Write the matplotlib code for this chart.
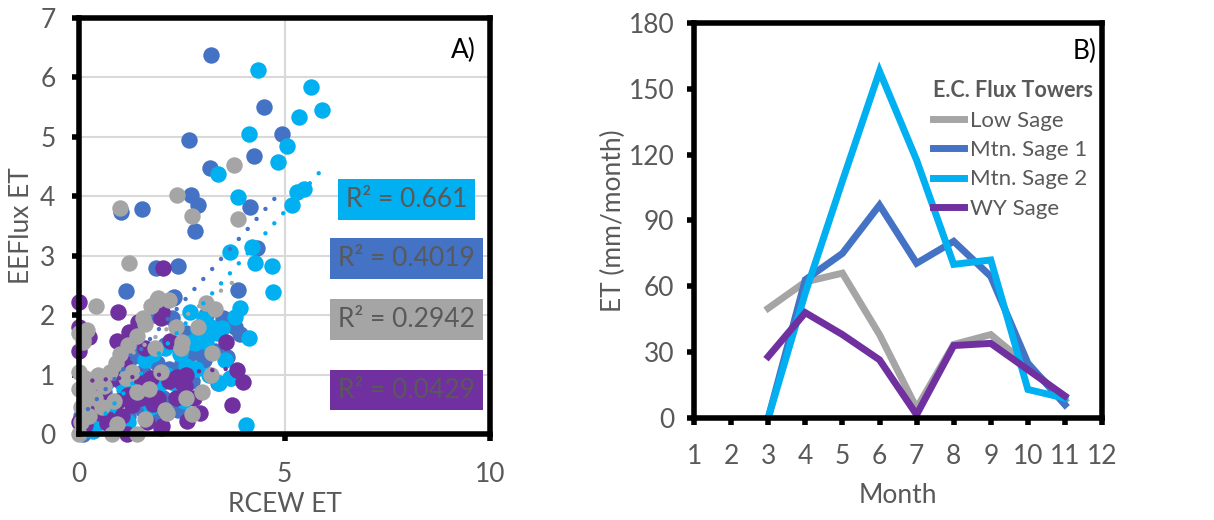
import numpy as np
import matplotlib
matplotlib.use("Agg")
import matplotlib.pyplot as plt

plt.rcParams['font.family'] = ['Lato', 'DejaVu Sans']

txt_col = '#595959'
c_low, c_mtn1, c_mtn2, c_wy = '#A5A5A5', '#4472C4', '#00B0F0', '#7030A0'

# ---- panel A: scatter RCEW vs EEFlux
mtn1_x = [3.20, 4.51, 2.68, 4.94, 4.26, 3.18, 2.72, 2.89, 1.54, 1.01, 4.17, 2.81, 4.32, 2.41, 1.87,
          3.86, 1.15, 2.29, 3.92, 3.38, 1.97, 1.85, 2.30, 2.25, 2.60, 2.95, 3.10, 3.30, 1.30, 1.55,
          1.90, 2.20, 2.55, 2.75, 2.05, 2.30, 1.55, 0.10, 0.25, 0.40, 0.60, 0.80, 1.00, 3.80, 3.50,
          2.40, 1.75, 1.40, 2.90, 3.05, 2.70, 0.05, 1.20, 1.70, 2.10, 2.50, 3.60]
mtn1_y = [6.37, 5.50, 4.95, 5.05, 4.67, 4.48, 4.02, 3.86, 3.79, 3.73, 3.82, 3.42, 3.13, 2.82, 2.80,
          2.42, 2.40, 2.29, 1.69, 0.86, 0.35, 2.00, 2.30, 1.95, 1.70, 1.60, 2.00, 1.40, 1.30, 1.05,
          1.20, 1.10, 1.00, 0.90, 0.60, 0.55, 0.40, 0.00, 0.15, 0.90, 0.70, 0.50, 0.90, 1.80, 1.95,
          0.40, 0.85, 1.50, 1.45, 1.25, 1.35, 0.30, 0.30, 0.30, 1.50, 1.20, 1.30]

mtn2_x = [4.35, 5.65, 5.90, 5.35, 4.14, 5.05, 4.84, 3.38, 5.48, 5.30, 5.18, 3.87, 4.20, 3.67, 4.27,
          4.69, 4.71, 3.92, 3.80, 3.49, 4.14, 4.05, 3.67, 2.82, 2.46, 1.64, 0.10, 0.20, 0.35, 0.50,
          0.30, 0.45, 0.80, 1.10, 1.00, 1.30, 1.45, 1.60, 1.80, 2.10, 2.30, 2.00, 2.45, 2.60, 2.75,
          2.90, 3.05, 3.20, 3.35, 3.55, 3.70, 2.55, 1.90, 1.20, 0.65, 2.70, 3.10, 2.85, 2.15, 1.75,
          3.40, 3.15]
mtn2_y = [6.13, 5.84, 5.45, 5.33, 5.05, 4.85, 4.57, 4.38, 4.12, 4.07, 3.86, 3.99, 3.14, 3.07, 2.88,
          2.82, 2.39, 2.12, 1.97, 1.78, 1.62, 0.15, 0.95, 1.53, 0.65, 0.57, 0.05, 0.10, 0.05, 0.20,
          0.45, 0.95, 0.40, 0.75, 1.05, 0.60, 0.90, 1.25, 1.35, 1.45, 0.85, 0.85, 1.35, 1.15, 1.55,
          1.75, 1.95, 1.80, 1.70, 1.25, 0.95, 0.55, 0.65, 0.20, 0.85, 2.05, 1.55, 1.10, 1.00, 0.45,
          0.85, 1.00]

wy_x = [0.01, 0.96, 2.05, 2.02, 1.22, 0.92, 0.24, 0.00, 0.00, 1.43, 2.21, 3.57, 3.84, 3.99, 3.71,
        2.62, 2.03, 1.16, 0.67, 1.30, 1.92, 1.58, 2.59, 2.38, 0.39, 0.00, 0.05, 0.10, 0.25, 0.40,
        0.55, 0.70, 0.95, 1.05, 1.20, 1.35, 1.50, 1.65, 1.80, 2.00, 2.20, 2.35, 2.50, 0.85, 1.10,
        0.30, 1.60, 2.80, 2.95, 0.15, 1.75, 0.50, 2.00, 2.60]
wy_y = [2.22, 2.05, 2.79, 2.06, 1.72, 1.57, 1.64, 1.80, 1.40, 1.89, 1.57, 1.55, 1.08, 0.88, 0.48,
        0.22, 0.14, 0.00, 0.18, 0.49, 0.60, 0.82, 0.80, 0.96, 0.46, 0.20, 0.05, 0.35, 0.55, 0.45,
        0.70, 0.25, 0.55, 0.30, 0.65, 1.00, 0.60, 0.20, 0.50, 0.10, 0.90, 0.60, 0.85, 0.95, 1.20,
        0.75, 1.45, 0.60, 0.35, 0.15, 0.95, 0.35, 1.95, 1.00]

low_x = [3.78, 2.38, 2.75, 3.86, 1.00, 1.21, 0.42, 1.93, 3.31, 2.48, 3.24, 3.22, 2.99, 2.75, 2.13,
         1.61, 1.41, 0.92, 0.00, 0.10, 0.00, 0.00, 0.05, 0.10, 0.00, 0.15, 0.20, 0.30, 0.40, 0.45,
         0.60, 0.75, 0.90, 1.00, 1.20, 1.40, 1.55, 1.75, 1.90, 2.20, 2.35, 1.85, 1.60, 1.30, 1.70,
         2.00, 0.05, 0.25, 0.55, 0.85, 1.15, 0.10, 0.20, 2.10, 2.90, 3.10, 2.50, 1.40, 0.80, 2.60]
low_y = [4.52, 4.02, 3.66, 3.62, 3.80, 2.88, 2.15, 2.28, 2.10, 1.44, 1.36, 0.99, 0.70, 0.33, 0.35,
         0.26, 0.00, 0.16, 1.70, 1.55, 1.05, 0.00, 0.20, 0.50, 0.75, 0.95, 0.65, 0.85, 0.60, 1.00,
         0.80, 1.05, 1.20, 1.35, 1.50, 1.65, 1.95, 2.15, 2.25, 2.25, 1.80, 1.45, 1.85, 1.05, 0.75,
         1.05, 0.45, 0.30, 0.45, 0.55, 0.95, 1.60, 1.75, 0.40, 1.80, 2.20, 1.55, 0.70, 0.00, 0.60]

# linear trendlines as drawn: slope, intercept, x end
trend_mtn2 = (0.78, -0.16, 5.90)
trend_mtn1 = (0.78, 0.25, 4.83)
trend_low = (0.49, 0.72, 3.73)
trend_wy = (0.06, 0.88, 3.75)
r2_labels = ['R² = 0.661', 'R² = 0.4019', 'R² = 0.2942', 'R² = 0.0429']

# ---- panel B: monthly ET from the flux towers
months = [3, 4, 5, 6, 7, 8, 9, 10, 11]
low_sage = [50, 62, 66, 38, 4.5, 33.5, 38, 24, 8]
mtn_sage1 = [0, 63, 75, 97, 70.5, 80.5, 64.5, 25, 6]
mtn_sage2 = [0, 57, 108, 158, 117.5, 70, 72, 13, 9]
wy_sage = [28, 48, 38, 26.5, 1.5, 33, 34, 22, 10]

fig = plt.figure(figsize=(12.14, 5.2), dpi=100)
ax1 = fig.add_axes([0.0651, 0.1654, 0.3386, 0.80])
ax2 = fig.add_axes([0.5717, 0.1962, 0.3361, 0.7596])

ms = 140
ax1.scatter(mtn1_x, mtn1_y, s=ms, c=c_mtn1, lw=0, zorder=3, clip_on=False)
ax1.scatter(mtn2_x, mtn2_y, s=ms, c=c_mtn2, lw=0, zorder=3, clip_on=False)
ax1.scatter(wy_x, wy_y, s=ms, c=c_wy, lw=0, zorder=3, clip_on=False)
ax1.scatter(low_x, low_y, s=ms, c=c_low, lw=0, zorder=3, clip_on=False)

for (m, b, xe), col in zip([trend_mtn2, trend_mtn1, trend_low, trend_wy],
                           [c_mtn2, c_mtn1, c_low, c_wy]):
    xs = np.array([0.0, xe])
    ax1.plot(xs, m * xs + b, color=col, lw=3.2, ls=(0, (0.01, 3.0)),
             dash_capstyle='round', zorder=4)

box_y = [3.94, 2.96, 1.92, 0.74]
for lab, yy, col in zip(r2_labels, box_y, [c_mtn2, c_mtn1, c_low, c_wy]):
    ax1.text(7.96, yy, lab, ha='center', va='center', fontsize=19, color=txt_col, zorder=5,
             bbox=dict(boxstyle='square,pad=0.3', fc=col, ec='none'))

ax1.text(9.65, 6.45, 'A)', ha='right', va='center', fontsize=19, color='black')
ax1.set_xlim(0, 10)
ax1.set_ylim(0, 7)
ax1.set_xticks([0, 5, 10])
ax1.set_yticks(range(8))
ax1.grid(True, color='#D9D9D9', lw=1.5, zorder=0)
ax1.set_axisbelow(True)
ax1.set_xlabel('RCEW ET', fontsize=19, color=txt_col, labelpad=4)
ax1.set_ylabel('EEFlux ET', fontsize=19, color=txt_col, labelpad=4)
ax1.tick_params(axis='both', direction='out', length=5, width=4, color='black',
                labelsize=19, labelcolor=txt_col, pad=15)
ax1.tick_params(axis='y', pad=12)

# panel B
for ys, col, lab in zip([low_sage, mtn_sage1, mtn_sage2, wy_sage],
                        [c_low, c_mtn1, c_mtn2, c_wy],
                        ['Low Sage', 'Mtn. Sage 1', 'Mtn. Sage 2', 'WY Sage']):
    ax2.plot(months, ys, color=col, lw=5, label=lab, solid_joinstyle='miter', zorder=3)

ax2.set_xlim(1, 12)
ax2.set_ylim(0, 180)
ax2.set_xticks(range(1, 13))
ax2.set_yticks(range(0, 181, 30))
ax2.set_xlabel('Month', fontsize=19, color=txt_col, labelpad=10)
ax2.set_ylabel('ET (mm/month)', fontsize=19, color=txt_col, labelpad=2)
ax2.tick_params(axis='both', direction='out', length=5, width=4, color='black',
                labelsize=19, labelcolor=txt_col)
ax2.tick_params(axis='x', pad=14)
ax2.tick_params(axis='y', pad=9)
ax2.text(11.85, 167, 'B)', ha='right', va='center', fontsize=19, color='black')

leg = ax2.legend(loc='upper right', bbox_to_anchor=(1.0, 0.877), frameon=False, fontsize=16,
                 title='E.C. Flux Towers', handlelength=1.4, handletextpad=0.25,
                 labelspacing=0.42, borderaxespad=0.0, alignment='left', labelcolor=txt_col)
leg.get_title().set_fontsize(15.5)
leg.get_title().set_fontweight('bold')
leg.get_title().set_color(txt_col)

for ax in (ax1, ax2):
    for sp in ax.spines.values():
        sp.set_linewidth(4)
        sp.set_color('black')
        sp.set_zorder(6)

fig.savefig('out.png', dpi=100)
